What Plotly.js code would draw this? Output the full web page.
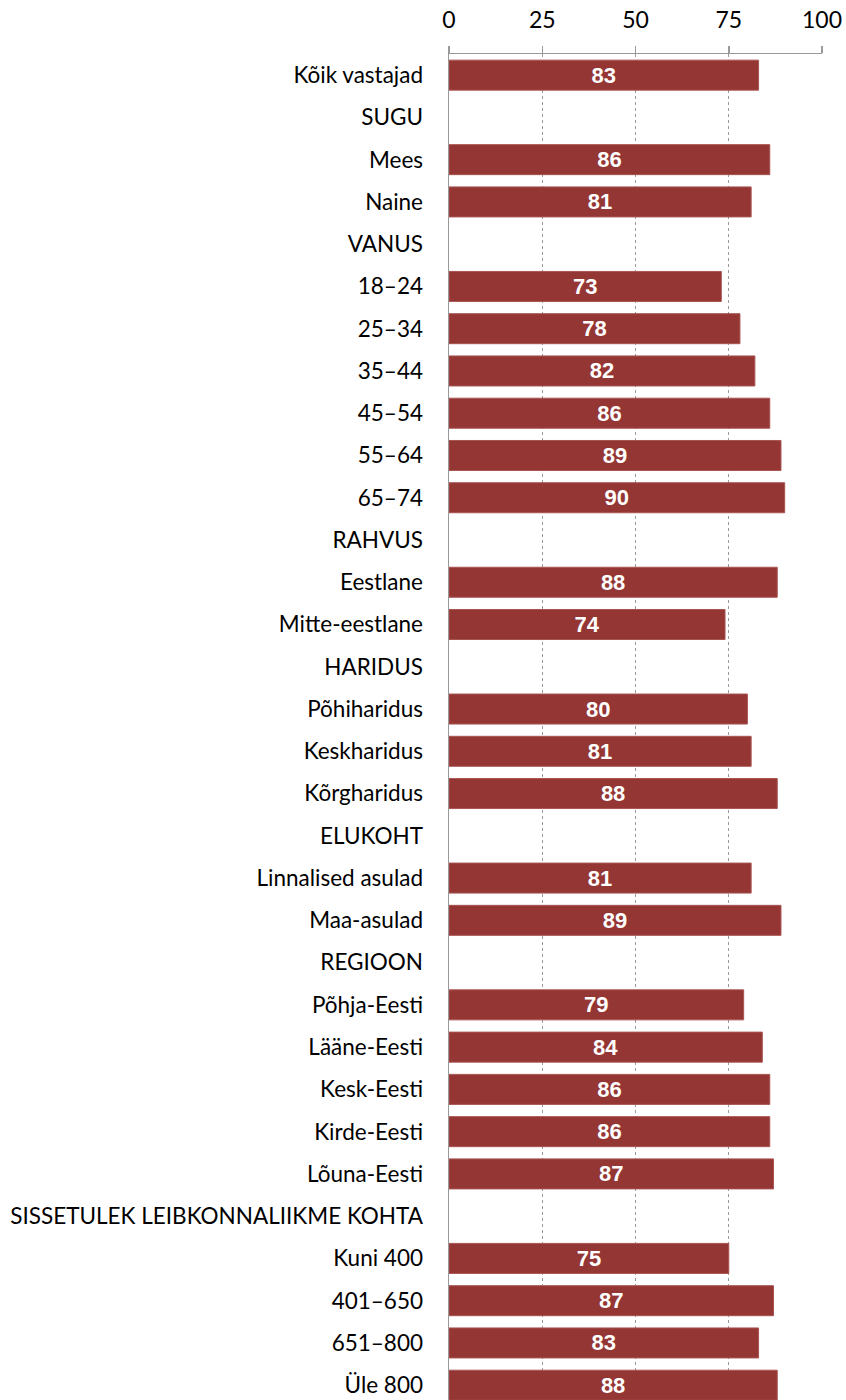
<!DOCTYPE html>
<html>
<head>
<meta charset="utf-8">
<script src="https://cdn.plot.ly/plotly-3.0.1.min.js"></script>
<style>html,body{margin:0;padding:0;background:#fff;}#chart{width:846px;height:1400px;}</style>
</head>
<body>
<div id="chart"></div>
<script>
const categories = [
  "Kõik vastajad", "SUGU", "Mees", "Naine", "VANUS",
  "18–24", "25–34", "35–44", "45–54", "55–64", "65–74",
  "RAHVUS", "Eestlane", "Mitte-eestlane",
  "HARIDUS", "Põhiharidus", "Keskharidus", "Kõrgharidus",
  "ELUKOHT", "Linnalised asulad", "Maa-asulad",
  "REGIOON", "Põhja-Eesti", "Lääne-Eesti", "Kesk-Eesti", "Kirde-Eesti", "Lõuna-Eesti",
  "SISSETULEK LEIBKONNALIIKME KOHTA", "Kuni 400", "401–650", "651–800", "Üle 800"
];
const values = [
  83, null, 86, 81, null,
  73, 78, 82, 86, 89, 90,
  null, 88, 74,
  null, 80, 81, 88,
  null, 81, 89,
  null, 79, 84, 86, 86, 87,
  null, 75, 87, 83, 88
];
const xTicks = [0, 25, 50, 75, 100];

const trace = {
  type: 'bar',
  orientation: 'h',
  y: categories,
  x: values,
  width: 0.71,
  marker: {color: '#943634', line: {color: '#a85452', width: 1}},
  text: values.map(v => v === null ? '' : String(v)),
  textposition: 'inside',
  insidetextanchor: 'middle',
  textangle: 0,
  constraintext: 'none',
  textfont: {family: 'Liberation Sans, Arial, sans-serif', size: 22, color: '#ffffff', weight: 'bold'},
  hoverinfo: 'none'
};

const layout = {
  width: 846, height: 1400,
  margin: {l: 449, r: 24, t: 54, b: 0},
  paper_bgcolor: '#ffffff', plot_bgcolor: '#ffffff',
  showlegend: false,
  xaxis: {
    side: 'top', range: [0, 100], tickvals: xTicks, ticktext: xTicks.map(String),
    showgrid: true, gridcolor: '#9a9a9a', griddash: 'dot', gridwidth: 1,
    showline: true, linecolor: '#999999', linewidth: 1.5,
    ticks: 'outside', ticklen: 7, tickcolor: '#999999', tickwidth: 1.5,
    ticklabelstandoff: 8,
    zeroline: false, fixedrange: true,
    tickfont: {family: 'Lato, Open Sans, sans-serif', size: 23, color: '#000'}
  },
  yaxis: {
    type: 'category', categoryorder: 'array', categoryarray: categories,
    range: [31.35, -0.5],
    showline: true, linecolor: '#999999', linewidth: 1.5,
    showgrid: false, zeroline: false, ticks: '',
    ticklabelstandoff: 20, automargin: false,
    tickfont: {family: 'Lato, Open Sans, sans-serif', size: 22.5, color: '#000'}
  }
};

Plotly.newPlot('chart', [trace], layout, {displayModeBar: false, staticPlot: true});
</script>
</body>
</html>
